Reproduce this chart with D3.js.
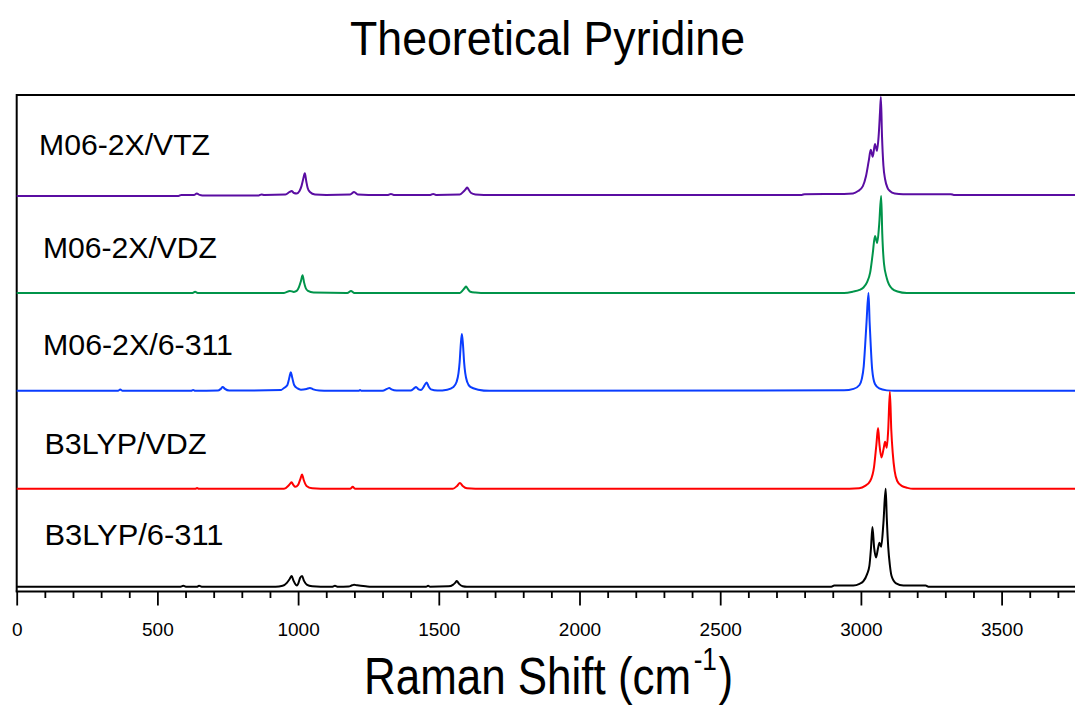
<!DOCTYPE html>
<html>
<head>
<meta charset="utf-8">
<script src="https://cdn.jsdelivr.net/npm/d3@7"></script>
<style>
  html, body { margin: 0; padding: 0; background: #fff; }
  text { font-family: "Liberation Sans", Arial, sans-serif; fill: #000; }
</style>
</head>
<body>
<div id="visualization"></div>
<script>
// Theoretical Pyridine - stacked Raman spectra

// Series names, top to bottom
const labels = ["M06-2X/VTZ", "M06-2X/VDZ", "M06-2X/6-311", "B3LYP/VDZ", "B3LYP/6-311"];

// Spectra as [wavenumber (cm-1), normalized intensity]
const m062xVTZ = [[0,-0.01],[575,-0.01],[585,0],[630,0],[640,0.015],[650,0],[660,-0.005],[860,-0.005],[870,0.005],[880,0],
  [955,0.005],[970,0.03],[977,0.04],[985,0.02],[995,0.015],[1005,0.04],[1012,0.09],[1018,0.16],[1024,0.22],[1029,0.14],
  [1034,0.07],[1042,0.03],[1060,0.005],[1100,0],[1185,0.005],[1199,0.03],[1212,0.005],[1250,0],[1320,0],[1330,0.01],
  [1340,0],[1470,0],[1480,0.01],[1490,0],[1575,0.005],[1588,0.035],[1596,0.06],[1601,0.075],[1607,0.05],[1615,0.02],
  [1630,0.005],[1660,0],[2790,0],[2800,0.008],[2940,0.01],[2972,0.015],[2990,0.04],[3007,0.09],[3018,0.19],[3028,0.35],
  [3035,0.46],[3042,0.39],[3050,0.52],[3057,0.45],[3063,0.6],[3068,0.85],[3071,1.0],[3075,0.6],[3080,0.3],[3086,0.16],
  [3095,0.07],[3103,0.04],[3120,0.015],[3150,0.008],[3320,0.008],[3330,0],[3800,0]];

const m062xVDZ = [[0,0],[625,0],[634,0.012],[643,0],[950,0],[971,0.02],[985,0.01],[995,0.02],[1003,0.06],[1010,0.12],
  [1016,0.18],[1021,0.11],[1027,0.05],[1035,0.02],[1055,0.003],[1175,0],[1188,0.02],[1200,0],[1575,0],[1585,0.025],
  [1592,0.05],[1597,0.065],[1603,0.04],[1612,0.012],[1630,0.003],[1650,0],[2940,0],[2972,0.013],[2995,0.03],[3009,0.055],
  [3022,0.11],[3033,0.21],[3042,0.4],[3050,0.58],[3058,0.51],[3065,0.7],[3072,0.99],[3076,0.6],[3082,0.3],[3092,0.15],
  [3110,0.045],[3130,0.015],[3163,0],[3800,0]];

const m062x6311 = [[0,0],[360,0],[368,0.015],[376,0],[620,0],[627,0.008],[634,0],[715,0.003],[725,0.02],[732,0.04],
  [740,0.02],[755,0.003],[940,0.01],[950,0.03],[962,0.06],[966,0.1],[970,0.15],[974,0.19],[978,0.15],[982,0.1],[986,0.06],
  [998,0.025],[1010,0.012],[1030,0.02],[1042,0.03],[1054,0.015],[1075,0.003],[1110,0],[1215,0],[1220,0.008],[1226,0],
  [1300,0],[1316,0.02],[1324,0.03],[1332,0.015],[1350,0.003],[1400,0.003],[1412,0.025],[1419,0.04],[1428,0.015],
  [1437,0.01],[1446,0.04],[1452,0.07],[1457,0.085],[1463,0.05],[1472,0.015],[1495,0.003],[1530,0.012],[1552,0.04],
  [1563,0.09],[1570,0.18],[1574,0.29],[1578,0.47],[1582,0.58],[1586,0.47],[1590,0.29],[1594,0.18],[1601,0.09],
  [1612,0.04],[1640,0.012],[1680,0],[2940,0.005],[2974,0.02],[2995,0.06],[3003,0.12],[3010,0.25],[3015,0.46],[3020,0.7],
  [3027,1.0],[3031,0.7],[3035,0.46],[3040,0.22],[3050,0.07],[3065,0.025],[3092,0.005],[3120,0],[3800,0]];

const b3lypVDZ = [[0,0],[635,0],[641,0.008],[647,0],[950,0],[965,0.03],[971,0.05],[977,0.067],[983,0.04],[990,0.02],
  [1000,0.04],[1008,0.1],[1014,0.146],[1020,0.09],[1030,0.03],[1050,0.005],[1080,0],[1185,0],[1194,0.02],[1203,0],
  [1550,0],[1565,0.03],[1575,0.06],[1585,0.03],[1600,0.005],[1630,0],[2960,0],[2994,0.005],[3015,0.03],[3033,0.08],
  [3047,0.23],[3055,0.45],[3061,0.62],[3066,0.45],[3073,0.32],[3080,0.4],[3086,0.48],[3092,0.42],[3097,0.6],[3103,0.99],
  [3108,0.6],[3113,0.37],[3120,0.18],[3129,0.08],[3145,0.03],[3165,0.01],[3185,0],[3800,0]];

const b3lyp6311 = [[0,0],[580,0],[592,0.01],[604,0],[640,0],[648,0.01],[660,0],[920,0],[945,0.01],[960,0.04],[970,0.08],
  [977,0.11],[984,0.06],[992,0.02],[996,0.013],[1000,0.03],[1007,0.09],[1014,0.11],[1021,0.06],[1032,0.02],[1050,0.005],
  [1080,0],[1120,0],[1131,0.01],[1142,0],[1180,0.002],[1192,0.015],[1199,0.02],[1210,0.015],[1240,0.005],[1260,0],
  [1455,0],[1462,0.01],[1469,0],[1535,0.005],[1550,0.02],[1558,0.04],[1564,0.058],[1572,0.03],[1585,0.005],[1600,0],
  [2895,0],[2905,0.012],[2973,0.013],[2995,0.03],[3009,0.057],[3022,0.13],[3030,0.21],[3036,0.4],[3041,0.61],[3047,0.4],
  [3054,0.3],[3060,0.38],[3066,0.45],[3072,0.41],[3080,0.65],[3088,1.0],[3092,0.7],[3097,0.41],[3103,0.22],[3109,0.11],
  [3125,0.035],[3151,0.013],[3230,0.012],[3240,0],[3800,0]];

const spectra = [m062xVTZ, m062xVDZ, m062x6311, b3lypVDZ, b3lyp6311];

// Axis tick labels
const xTicks = [0, 500, 1000, 1500, 2000, 2500, 3000, 3500];
const xMinorTicks = d3.range(0, 3800, 100);

// Chart dimensions
const width = 1075;
const height = 705;
const colors = ["#5a0da2", "#00944a", "#0a3dff", "#ff0000", "#000000"];

const x = d3.scaleLinear().domain([0, 3800]).range([16.7, 16.7 + 3800 * 0.2814]);
const y = d3.scaleLinear().domain([-0.048, 5.02]).range([591.5, 95]);

const svg = d3.create("svg")
    .attr("width", width)
    .attr("height", height)
    .attr("viewBox", [0, 0, width, height]);

// Title
svg.append("text")
    .attr("x", 350)
    .attr("y", 55)
    .attr("font-size", 49)
    .attr("textLength", 395)
    .attr("lengthAdjust", "spacingAndGlyphs")
    .text("Theoretical Pyridine");

// Frame: top border and left axis line
svg.append("line")
    .attr("x1", x(0)).attr("x2", width)
    .attr("y1", 95).attr("y2", 95)
    .attr("stroke", "#000").attr("stroke-width", 2);
svg.append("line")
    .attr("x1", x(0)).attr("x2", x(0))
    .attr("y1", 94).attr("y2", y.range()[0])
    .attr("stroke", "#000").attr("stroke-width", 2);

// Bottom axis: minor ticks, then major ticks with labels
svg.append("g")
    .attr("transform", `translate(0,${y.range()[0]})`)
    .call(d3.axisBottom(x).tickValues(xMinorTicks.filter(d => d % 500 !== 0)).tickSize(6.5).tickSizeOuter(0).tickFormat(""))
    .call(g => g.select(".domain").remove())
    .call(g => g.selectAll(".tick line").attr("stroke-width", 1.8));

svg.append("g")
    .attr("transform", `translate(0,${y.range()[0]})`)
    .call(d3.axisBottom(x).tickValues(xTicks).tickSize(14).tickSizeOuter(0).tickPadding(17).tickFormat(d3.format("d")))
    .call(g => g.select(".domain").remove())
    .call(g => g.selectAll(".tick line").attr("stroke-width", 1.8))
    .call(g => g.selectAll(".tick text")
        .attr("font-size", 19)
        .attr("font-family", "Liberation Sans, Arial, sans-serif")
        .attr("fill", "#000"));

svg.append("line")
    .attr("x1", x(0) - 1).attr("x2", width)
    .attr("y1", y.range()[0]).attr("y2", y.range()[0])
    .attr("stroke", "#000").attr("stroke-width", 2);

// Spectra, stacked with an offset of 1 each
const line = d3.line()
    .x(d => x(d[0]))
    .curve(d3.curveMonotoneX);

svg.append("g")
    .attr("fill", "none")
    .attr("stroke-width", 2)
    .attr("stroke-linejoin", "round")
    .selectAll("path")
    .data(spectra)
    .join("path")
    .attr("stroke", (d, i) => colors[i])
    .attr("d", (d, i) => line.y(p => y(p[1] + (spectra.length - 1 - i)))(d));

// Series labels
const labelPos = [[39, 155, 171], [43, 258, 174], [43, 355, 190], [44.5, 454, 162], [44.5, 545, 179]];
svg.append("g")
    .selectAll("text")
    .data(labels)
    .join("text")
    .attr("x", (d, i) => labelPos[i][0])
    .attr("y", (d, i) => labelPos[i][1])
    .attr("textLength", (d, i) => labelPos[i][2])
    .attr("lengthAdjust", "spacingAndGlyphs")
    .attr("font-size", 29)
    .text(d => d);

// X axis title with superscript, horizontally condensed like the original
const xTitle = svg.append("text")
    .attr("transform", "translate(364,694) scale(0.845,1)")
    .attr("font-size", 52);
xTitle.append("tspan").text("Raman Shift (cm");
xTitle.append("tspan").attr("font-size", 31).attr("dy", -24).attr("dx", 3).text("-1");
xTitle.append("tspan").attr("dy", 24).attr("dx", 2).text(")");

document.getElementById("visualization").appendChild(svg.node());
</script>
</body>
</html>
